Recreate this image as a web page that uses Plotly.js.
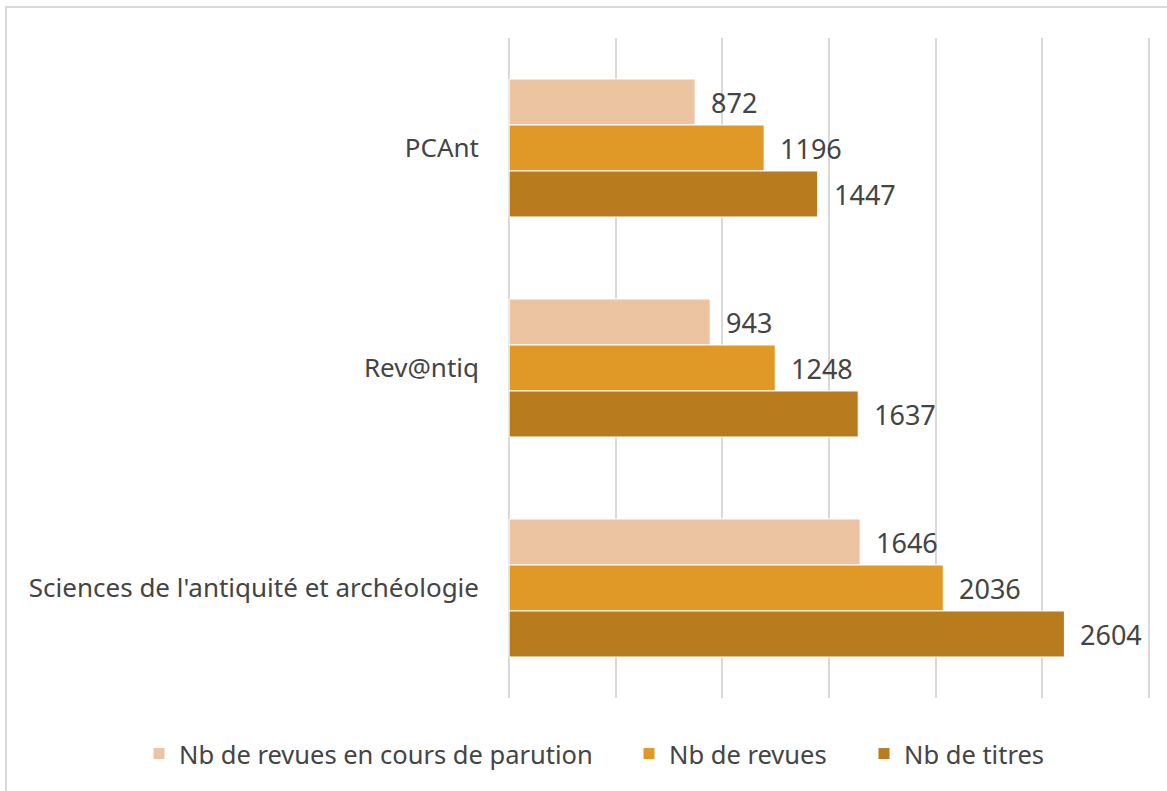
<!DOCTYPE html>
<html>
<head>
<meta charset="utf-8">
<script src="https://cdn.plot.ly/plotly-3.0.1.min.js"></script>
<style>
html,body{margin:0;padding:0;background:#fff;overflow:hidden;}
#chart{width:1167px;height:791px;}
</style>
</head>
<body>
<div id="chart"></div>
<script>
const categories = ["PCAnt", "Rev@ntiq", "Sciences de l'antiquité et archéologie"];
const seriesNames = ["Nb de revues en cours de parution", "Nb de revues", "Nb de titres"];
const enCours = [872, 943, 1646];
const revues = [1196, 1248, 2036];
const titres = [1447, 1637, 2604];
const colors = ["#EDC4A1", "#E09826", "#B87B1E"];

const seriesValues = [enCours, revues, titres];
const font = "Noto Sans, Open Sans, sans-serif";
const legendIds = ["legend", "legend2", "legend3"];
const legendX = [139, 629, 864];   // left edges of the legend entries, in pixels

const traces = seriesValues.map((vals, i) => ({
  type: "bar",
  orientation: "h",
  name: seriesNames[i],
  legend: legendIds[i],
  y: categories,
  x: vals,
  marker: {color: colors[i], line: {color: "#ffffff", width: 1}},
  hoverinfo: "x+name"
}));

// data labels next to each bar end, one row per series within a group
const barPx = 46;
const annotations = [];
seriesValues.forEach((vals, i) => {
  vals.forEach((v, j) => {
    annotations.push({
      x: v, y: categories[j], xref: "x", yref: "y",
      text: String(v), showarrow: false,
      xanchor: "left", yanchor: "middle",
      xshift: 14, yshift: (1 - i) * barPx,
      font: {family: font, size: 27, color: "#444444"}
    });
  });
});

const W = 1167, H = 791;
const mL = 507, mR = 16, plotW = W - mL - mR;
const layout = {
  width: W, height: H,
  margin: {l: mL, r: mR, t: 38, b: 93},
  paper_bgcolor: "#ffffff", plot_bgcolor: "#ffffff",
  barmode: "group", bargap: 0.373, bargroupgap: 0,
  font: {family: font, color: "#444444"},
  xaxis: {
    range: [-10, 3010], tick0: 0, dtick: 500, showgrid: true, gridcolor: "#d9d9d9", gridwidth: 2,
    zeroline: false, showticklabels: false, showline: false, fixedrange: true
  },
  yaxis: {
    autorange: "reversed", type: "category", showgrid: false, zeroline: false,
    showline: false, ticks: "", ticklabelstandoff: 27,
    tickfont: {family: font, size: 26, color: "#444444"}
  },
  showlegend: true,
  annotations: annotations,
  shapes: [{
    type: "rect", xref: "paper", yref: "paper",
    x0: (6 - mL) / plotW, x1: (1180 - mL) / plotW,
    y0: (698 - 810) / 660, y1: (698 - 7) / 660,
    line: {color: "#d9d9d9", width: 2}, fillcolor: "rgba(0,0,0,0)", layer: "below"
  }]
};
legendIds.forEach((id, i) => {
  layout[id] = {
    orientation: "h", xref: "container", yref: "container",
    x: legendX[i] / W, xanchor: "left", y: 1 - 754 / H, yanchor: "middle",
    font: {family: font, size: 25.5, color: "#444444"},
    bgcolor: "rgba(0,0,0,0)"
  };
});

Plotly.newPlot("chart", traces, layout, {displayModeBar: false, staticPlot: true});
</script>
</body>
</html>
